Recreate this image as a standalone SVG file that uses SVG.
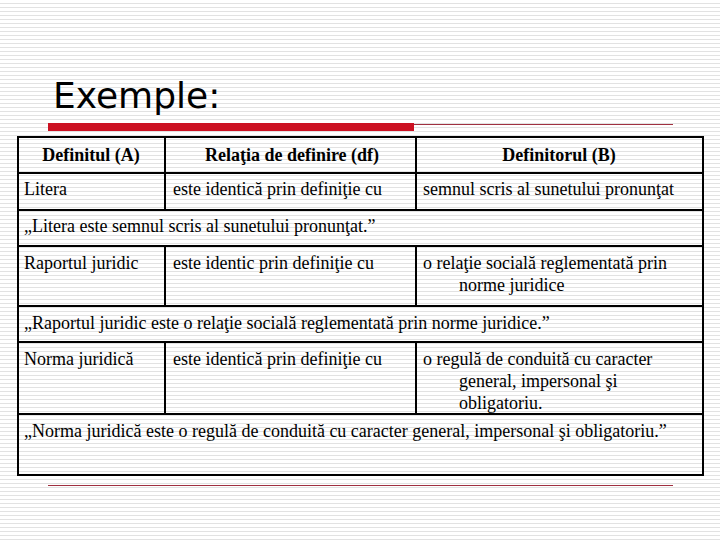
<svg xmlns="http://www.w3.org/2000/svg" width="720" height="540" viewBox="0 0 720 540">
<defs>
<pattern id="st" width="4" height="4" patternUnits="userSpaceOnUse"><rect width="4" height="4" fill="#fff"/><rect y="3" width="4" height="1" fill="#e2e2e2"/></pattern>
<style>
.t{font-family:"Liberation Serif",serif;font-size:18px;fill:#000}
.h{font-weight:bold;text-anchor:middle}
.g{stroke:#000;stroke-width:2;fill:none}
</style>
</defs>
<rect width="720" height="540" fill="url(#st)"/>
<text x="53" y="108" font-family="DejaVu Sans,sans-serif" font-size="36" fill="#000">Exemple:</text>
<rect x="48" y="123" width="366" height="8" fill="#cc1122"/>
<line x1="414" y1="124.5" x2="673" y2="124.5" stroke="#a03040" stroke-width="1"/>
<line x1="48" y1="485.5" x2="673" y2="485.5" stroke="#a03040" stroke-width="1"/>
<g id="table">
<rect class="g" x="18" y="137" width="685" height="338"/>
<path class="g" d="M18 173H703M18 210H703M18 246H703M18 306H703M18 342H703M18 414H703M165 137V210M416 137V210M165 246V306M416 246V306M165 342V414M416 342V414"/>
</g>
<g id="header">
<text class="t h" x="91" y="161">Definitul (A)</text>
<text class="t h" x="292" y="161">Relaţia de definire (df)</text>
<text class="t h" x="559" y="161">Definitorul (B)</text>
</g>
<g id="row1">
<text class="t" x="24" y="195">Litera</text>
<text class="t" x="173" y="195">este identică prin definiţie cu</text>
<text class="t" x="423" y="195">semnul scris al sunetului pronunţat</text>
<text class="t" x="24" y="232">„Litera este semnul scris al sunetului pronunţat.”</text>
</g>
<g id="row2">
<text class="t" x="24" y="269">Raportul juridic</text>
<text class="t" x="173" y="269">este identic prin definiţie cu</text>
<text class="t" x="423" y="269">o relaţie socială reglementată prin</text>
<text class="t" x="459" y="291">norme juridice</text>
<text class="t" x="24" y="329">„Raportul juridic este o relaţie socială reglementată prin norme juridice.”</text>
</g>
<g id="row3">
<text class="t" x="24" y="365">Norma juridică</text>
<text class="t" x="173" y="365">este identică prin definiţie cu</text>
<text class="t" x="423" y="365">o regulă de conduită cu caracter</text>
<text class="t" x="459" y="387">general, impersonal şi</text>
<text class="t" x="459" y="409">obligatoriu.</text>
<text class="t" x="24" y="437">„Norma juridică este o regulă de conduită cu caracter general, impersonal şi obligatoriu.”</text>
</g>
</svg>
